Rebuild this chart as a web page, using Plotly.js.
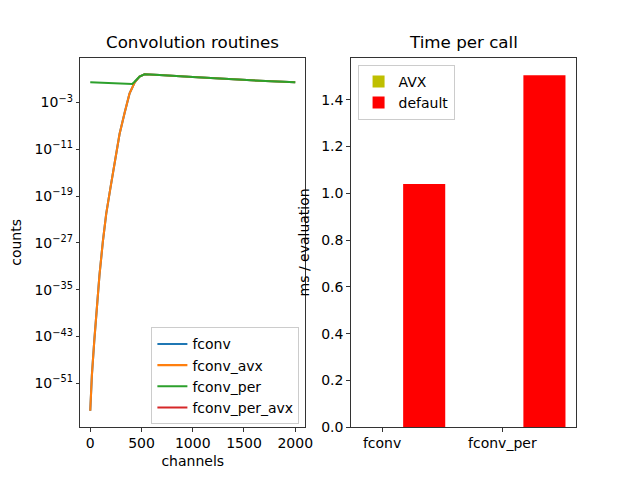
<!DOCTYPE html>
<html>
<head>
<meta charset="utf-8">
<script src="https://cdn.plot.ly/plotly-3.0.1.min.js"></script>
<style>html,body{margin:0;padding:0;background:#fff;}#chart{width:640px;height:480px;}</style>
</head>
<body>
<div id="chart"></div>
<script>
// Left panel: counts vs channels
const chanRise = [0, 16, 39, 64, 90, 123, 156, 195, 220, 254, 286, 335, 383, 432, 481, 530, 600, 676, 1001, 1327, 1652, 2000];
const fconv = [2.0e-56, 2.5e-50, 1.6e-44, 1.0e-38, 3.2e-33, 1.6e-27, 1.0e-22, 1.6e-18, 5.0e-16, 2.0e-12, 4.0e-9, 1.6e-5, 0.032, 2.4, 25.7, 66, 60, 50, 22.4, 10.2, 5.2, 2.8];
const fconv_avx = [2.0e-56, 2.5e-50, 1.6e-44, 1.0e-38, 3.2e-33, 1.6e-27, 1.0e-22, 1.6e-18, 5.0e-16, 2.0e-12, 4.0e-9, 1.6e-5, 0.032, 2.4, 25.7, 66, 60, 50, 22.4, 10.2, 5.2, 2.8];
const chanPer = [0, 205, 410, 432, 481, 530, 600, 676, 1001, 1327, 1652, 2000];
const fconv_per = [2.8, 2.0, 1.45, 3.4, 26, 66, 60, 50, 22.4, 10.2, 5.2, 2.8];
// not visible in the reference (no positive values on the log axis)
const fconv_per_avx = [0, 0, 0, 0, 0, 0, 0, 0, 0, 0, 0, 0];

// Right panel: time per call
const routines = ['fconv', 'fconv_per'];
const routinePos = [0, 1];
const avxTimes = [0, 0];
const defaultTimes = [1.04, 1.505];
const barWidth = 0.35;

const logTicks = [-51, -43, -35, -27, -19, -11, -3];
const xTicks = [0, 500, 1000, 1500, 2000];
const yTicks2 = [0, 0.2, 0.4, 0.6, 0.8, 1.0, 1.2, 1.4];

const FONT = 'DejaVu Sans, sans-serif';
const lw = 2.08;

const traces = [
  {x: chanRise, y: fconv, name: 'fconv', type: 'scatter', mode: 'lines', line: {color: '#1f77b4', width: lw}, xaxis: 'x', yaxis: 'y', legend: 'legend'},
  {x: chanRise, y: fconv_avx, name: 'fconv_avx', type: 'scatter', mode: 'lines', line: {color: '#ff7f0e', width: lw}, xaxis: 'x', yaxis: 'y', legend: 'legend'},
  {x: chanPer, y: fconv_per, name: 'fconv_per', type: 'scatter', mode: 'lines', line: {color: '#2ca02c', width: lw}, xaxis: 'x', yaxis: 'y', legend: 'legend'},
  {x: chanPer, y: fconv_per_avx, name: 'fconv_per_avx', type: 'scatter', mode: 'lines', connectgaps: false, line: {color: '#d62728', width: lw}, xaxis: 'x', yaxis: 'y', legend: 'legend', showlegend: true},
  {x: routinePos, y: avxTimes, name: 'AVX', type: 'bar', width: barWidth, marker: {color: '#bfbf00'}, xaxis: 'x2', yaxis: 'y2', legend: 'legend2'},
  {x: routinePos.map(p => p + barWidth), y: defaultTimes, name: 'default', type: 'bar', width: barWidth, marker: {color: '#ff0000'}, xaxis: 'x2', yaxis: 'y2', legend: 'legend2'}
];

const axisCommon = {
  showline: true, mirror: true, linecolor: 'black', linewidth: 0.8,
  ticks: 'outside', ticklen: 3.5, tickwidth: 0.8, tickcolor: 'black',
  showgrid: false, zeroline: false,
  tickfont: {family: FONT, size: 14, color: 'black'}
};

const layout = {
  width: 640, height: 480,
  margin: {l: 0, r: 0, t: 0, b: 0},
  paper_bgcolor: 'white', plot_bgcolor: 'white',
  font: {family: FONT, size: 14, color: 'black'},
  barmode: 'overlay',
  xaxis: Object.assign({}, axisCommon, {
    domain: [0.125, 0.4773], anchor: 'y', range: [-100, 2100],
    tickvals: xTicks, ticktext: xTicks.map(String),
    title: {text: 'channels', font: {family: FONT, size: 14}, standoff: 5}
  }),
  yaxis: Object.assign({}, axisCommon, {
    domain: [0.11, 0.88], anchor: 'x', type: 'log', range: [-58.5, 4.67],
    tickvals: logTicks.map(e => Math.pow(10, e)),
    ticktext: logTicks.map(e => '10<sup>\u2212' + Math.abs(e) + '</sup>'),
    title: {text: 'counts', font: {family: FONT, size: 14}, standoff: 9}
  }),
  xaxis2: Object.assign({}, axisCommon, {
    domain: [0.5477, 0.9], anchor: 'y2', range: [-0.2625, 1.6125],
    tickvals: routinePos, ticktext: routines
  }),
  yaxis2: Object.assign({}, axisCommon, {
    domain: [0.11, 0.88], anchor: 'x2', range: [0, 1.58],
    tickvals: yTicks2, ticktext: yTicks2.map(v => v.toFixed(1)),
    title: {text: 'ms / evaluation', font: {family: FONT, size: 14}, standoff: 8}
  }),
  legend: {
    x: 0.4773 - 0.0095, y: 0.11 + 0.006, xanchor: 'right', yanchor: 'bottom',
    bgcolor: 'rgba(255,255,255,0.8)', bordercolor: '#cccccc', borderwidth: 1,
    font: {family: FONT, size: 14}, itemwidth: 30, tracegroupgap: 0
  },
  legend2: {
    x: 0.5477 + 0.011, y: 0.88 - 0.015, xanchor: 'left', yanchor: 'top',
    bgcolor: 'rgba(255,255,255,0.8)', bordercolor: '#cccccc', borderwidth: 1,
    font: {family: FONT, size: 14}, itemwidth: 30
  },
  annotations: [
    {text: 'Convolution routines', xref: 'paper', yref: 'paper', x: (0.125 + 0.4773) / 2, y: 0.88, yanchor: 'bottom', xanchor: 'center', yshift: 4, showarrow: false, font: {family: FONT, size: 16.7}},
    {text: 'Time per call', xref: 'paper', yref: 'paper', x: (0.5477 + 0.9) / 2, y: 0.88, yanchor: 'bottom', xanchor: 'center', yshift: 4, showarrow: false, font: {family: FONT, size: 16.7}}
  ]
};

Plotly.newPlot('chart', traces, layout, {displayModeBar: false, staticPlot: true});
</script>
</body>
</html>
